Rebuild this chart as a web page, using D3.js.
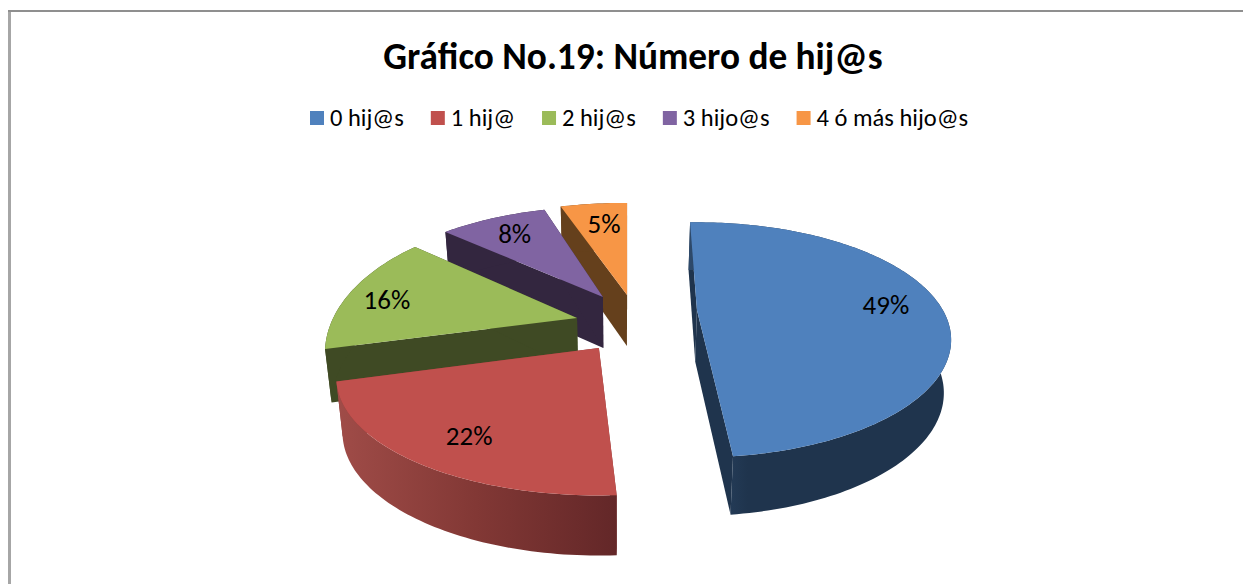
<!DOCTYPE html>
<html><head><meta charset="utf-8">
<script src="https://cdn.jsdelivr.net/npm/d3@7/dist/d3.min.js"></script>
<style>html,body{margin:0;padding:0;background:#fff}svg{display:block}text{font-family:Carlito,Calibri,Lato,"Open Sans",sans-serif}</style>
</head><body><svg id="c" width="1243" height="584"></svg>
<script>
const title = "Gráfico No.19: Número de hij@s";
const categories = ["0 hij@s","1 hij@","2 hij@s","3 hijo@s","4 ó más hijo@s"];
const values = [49,22,16,8,5];
const topColors = ["#4f81bd","#c0504d","#9bbb59","#8064a2","#f79646"];
const wallColors = ["#1f344d","#8a3a38","#3f4a24","#33263f","#65401c"];
const gradStops = [["#2e4a6b","#1f344d","#1f344d"],["#a04c48","#823835","#632728"],null,null,null];
// geometry of the exploded 3-D view
const pullX = [0.232,-0.154,-0.240,-0.138,-0.043];
const pullY = [0.045,-0.300,-0.027,0.164,0.182];
const startAdj = [0,2.6,3.4,1,2];
const endAdj = [-0.7,0,-1.7,3,2];
const fitX = [0.968,1,0.96,0.98,1.05];
const fitY = [1,1,1.18,1.03,1.05];
const labelRadius = [0.755,0.79,0.80,0.78,0.78];
const labelTurn = [0,-1.5,0,3,3];

const W=1243,H=584,cx=638,cy=315,rx=254,ry=110,persp=0.254,startDeg=-2;
const svg=d3.select("#c");
const defs=svg.append("defs");

svg.append("rect").attr("x",8).attr("y",10).attr("width",3).attr("height",H).attr("fill","#a6a6a6");
svg.append("rect").attr("x",8).attr("y",10).attr("width",W).attr("height",2).attr("fill","#8f8f8f");

svg.append("text").attr("x",633).attr("y",69).attr("text-anchor","middle")
  .attr("font-size",37.3).attr("font-weight",700).attr("fill","#000").text(title);

let lx=310;
categories.forEach((c,i)=>{
  const g=svg.append("g");
  g.append("rect").attr("x",lx).attr("y",111).attr("width",14).attr("height",14).attr("fill",topColors[i]);
  const t=g.append("text").attr("x",lx+20).attr("y",126).attr("font-size",24.5).attr("fill","#000").text(c);
  lx+=20+t.node().getComputedTextLength()+27;
});

const pie=d3.pie().sort(null).startAngle(startDeg*Math.PI/180).endAngle((startDeg+360)*Math.PI/180);
const arcs=pie(values);
const rad=Math.PI/180;

const sx=d3.scaleLinear().domain([-1,1]).range([-rx,rx]);
const sy=d3.scaleLinear().domain([-1,1]).range([ry,-ry]);
const depth=d3.scaleLinear().domain([295,493]).range([51,60]);
function project(i,dX,dY,fx=1,fy=1){
  const w=1+persp*dY;
  return [cx+sx(pullX[i])+fx*sx(dX)/w, cy+sy(pullY[i])+fy*sy(dY)/w];
}
function lower(p){ return [620+(p[0]-620)*0.978, p[1]+depth(p[1])]; }
const line=d3.line();
function rimOf(i){
  const a=arcs[i];
  const t0=a.startAngle+startAdj[i]*rad, t1=a.endAngle+endAdj[i]*rad;
  const n=Math.max(4,Math.ceil((t1-t0)/0.02));
  return d3.range(n+1).map(k=>{const t=t0+(t1-t0)*k/n;return project(i,Math.sin(t),Math.cos(t),fitX[i],fitY[i]);});
}
[4,3,2,1,0].forEach(i=>{
  const top=rimOf(i), bot=top.map(lower);
  const at=project(i,0,0), ab=lower(at);
  const el=svg.append("g");
  let wallFill=wallColors[i];
  if(gradStops[i]){
    const id="w"+i;
    const lg=defs.append("linearGradient").attr("id",id).attr("x1",0).attr("x2",i===0?0.45:1);
    gradStops[i].forEach((c,k)=>lg.append("stop").attr("offset",k/(gradStops[i].length-1)).attr("stop-color",c));
    wallFill=`url(#${id})`;
  }
  el.append("path").attr("d",line([at,top[0],bot[0],ab])+"Z").attr("fill",wallColors[i]);
  el.append("path").attr("d",line([at,top[top.length-1],bot[bot.length-1],ab])+"Z").attr("fill",wallColors[i]);
  el.append("path").attr("d",line(top.concat(bot.slice().reverse()))+"Z").attr("fill",wallFill);
  el.append("path").attr("d",line([at].concat(top))+"Z").attr("fill",topColors[i]);
});
arcs.forEach((a,i)=>{
  const mid=(a.startAngle+a.endAngle)/2+labelTurn[i]*rad, r=labelRadius[i];
  const p=project(i,r*Math.sin(mid),r*Math.cos(mid));
  svg.append("text").attr("x",p[0]).attr("y",p[1]+9).attr("text-anchor","middle")
    .attr("font-size",27).attr("fill","#000").text(values[i]+"%");
});
</script></body></html>
